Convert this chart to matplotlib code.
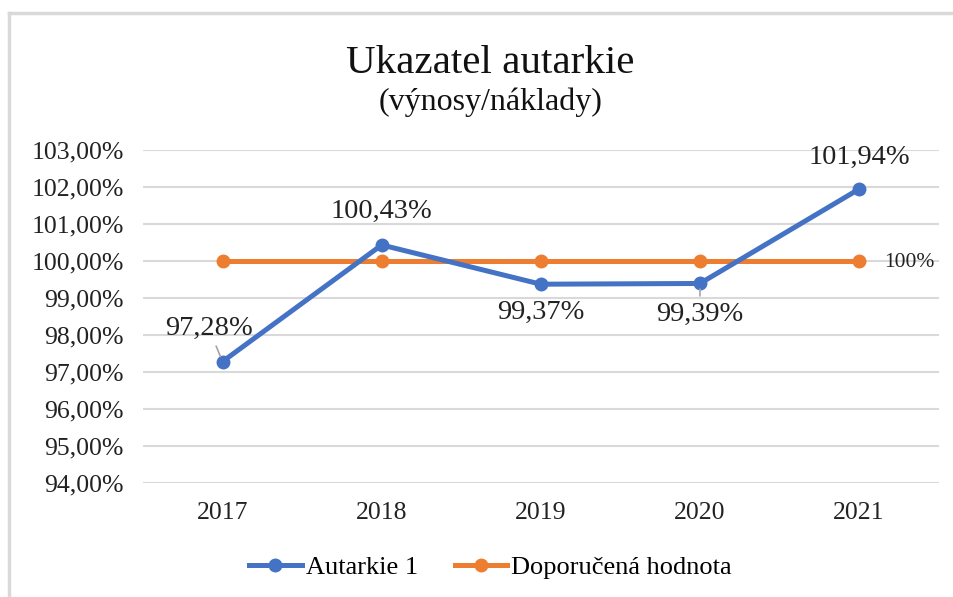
import matplotlib.pyplot as plt
from matplotlib.lines import Line2D
from matplotlib.ticker import FuncFormatter

plt.rcParams['font.family'] = ['Liberation Serif', 'DejaVu Serif']

years = ['2017', '2018', '2019', '2020', '2021']
autarkie = [97.28, 100.43, 99.37, 99.39, 101.94]
doporucena = [100, 100, 100, 100, 100]
labels = ['97,28%', '100,43%', '99,37%', '99,39%', '101,94%']

blue = '#4472C4'
orange = '#ED7D31'
grid = '#D9D9D9'

fig = plt.figure(figsize=(9.54, 5.97), dpi=100)
ax = fig.add_axes([0.1499, 0.191, 0.834, 0.558])

x = list(range(len(years)))
ax.plot(x, doporucena, color=orange, lw=3.6, marker='o', ms=9, zorder=3,
        solid_capstyle='round')
ax.plot(x, autarkie, color=blue, lw=3.6, marker='o', ms=9, zorder=4,
        solid_capstyle='round')

ax.set_xlim(-0.5, len(years) - 0.5)
ax.set_ylim(94, 103)
ax.set_yticks(range(94, 104))
ax.yaxis.set_major_formatter(FuncFormatter(lambda v, p: f'{v:.2f}'.replace('.', ',') + '%'))
ax.set_xticks(x)
ax.set_xticklabels(years)
ax.tick_params(length=0, labelsize=18.5, colors='#222222')
ax.tick_params(axis='y', pad=14)
ax.tick_params(axis='x', pad=14)
ax.grid(axis='y', color=grid, lw=1.5)
ax.set_axisbelow(True)
for s in ax.spines.values():
    s.set_visible(False)

# popisky hodnot (posun v bodech)
offsets = [(-10, 24), (0, 24), (0, -20), (0, -22), (0, 23)]
for i, (val, txt, off) in enumerate(zip(autarkie, labels, offsets)):
    arrow = None
    if i in (0, 3):
        arrow = dict(arrowstyle='-', color='#A6A6A6', lw=1.2, shrinkA=2, shrinkB=4)
    ax.annotate(txt, (i, val), xytext=off, textcoords='offset points',
                ha='center', va='center', fontsize=20.5, color='#222222',
                arrowprops=arrow, zorder=5)
ax.annotate('100%', (x[-1], doporucena[-1]), xytext=(18, -1),
            textcoords='offset points', ha='left', va='center',
            fontsize=15.5, color='#222222')

fig.text(0.514, 0.893, 'Ukazatel autarkie', ha='center', va='center',
         fontsize=29.5, color='#111111')
fig.text(0.514, 0.828, '(výnosy/náklady)', ha='center', va='center',
         fontsize=23, color='#111111')

handles = [Line2D([], [], color=blue, lw=3.6, marker='o', ms=9),
           Line2D([], [], color=orange, lw=3.6, marker='o', ms=9)]
fig.legend(handles, ['Autarkie 1', 'Doporučená hodnota'], loc='center',
           bbox_to_anchor=(0.514, 0.05), ncol=2, frameon=False, fontsize=19,
           handlelength=2.0, handletextpad=0.15, columnspacing=1.4)

# rámeček grafu
fig.add_artist(Line2D([9 / 954, 9 / 954], [0, 1 - 13 / 597], color=grid, lw=2.5))
fig.add_artist(Line2D([9 / 954, 1], [1 - 13 / 597, 1 - 13 / 597], color=grid, lw=2.5))

fig.savefig('out.png', dpi=100)
